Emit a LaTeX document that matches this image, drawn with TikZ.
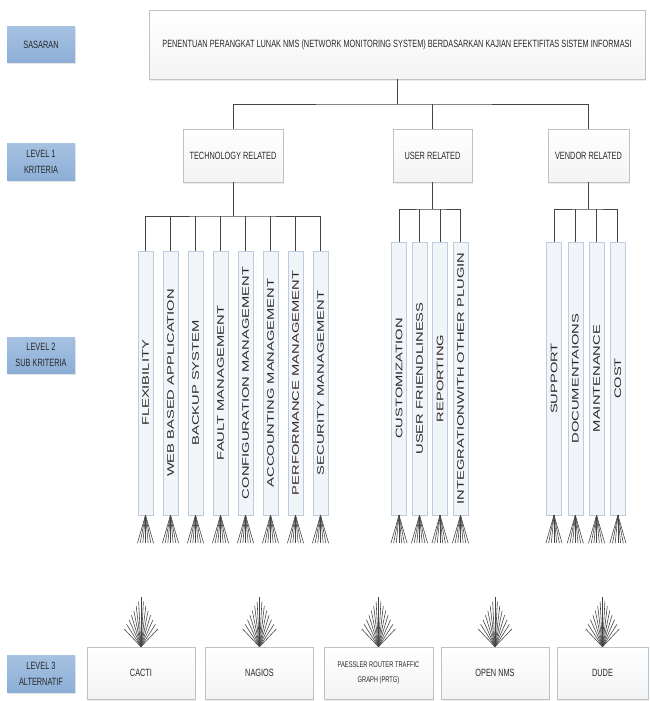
\documentclass[tikz,border=0pt]{standalone}
\usepackage{fontspec}
\setmainfont{Liberation Sans}
\newfontfamily\narrowfont[FakeStretch=0.7]{Liberation Sans}
\newfontfamily\widefont[FakeStretch=1.55]{Liberation Sans}
\usepackage{tikz}
\usetikzlibrary{calc,shadows}
\definecolor{lvltop}{RGB}{166,194,226}
\definecolor{lvlbot}{RGB}{140,174,214}
\definecolor{boxline}{RGB}{188,194,202}
\definecolor{colfill}{RGB}{241,245,250}
\definecolor{colline}{RGB}{190,205,222}
\definecolor{linkgray}{RGB}{68,68,68}
\definecolor{fangray}{RGB}{70,70,70}
\definecolor{txt}{RGB}{40,40,40}
\tikzset{
  levelbox/.style={rectangle,draw=none,top color=lvltop,bottom color=lvlbot,
    minimum width=68pt,minimum height=36pt,align=center,inner sep=2pt,
    text=txt,font=\narrowfont\fontsize{10.5}{16}\selectfont,
    drop shadow={shadow xshift=0.8pt,shadow yshift=-1.5pt,opacity=0.2}},
  goalbox/.style={rectangle,draw=boxline,top color=white,bottom color=gray!9,
    minimum width=496pt,minimum height=69pt,align=center,inner sep=2pt,
    text=txt,font=\narrowfont\fontsize{10.5}{12}\selectfont,
    drop shadow={shadow xshift=0.8pt,shadow yshift=-1.5pt,opacity=0.15}},
  critbox/.style={goalbox,minimum width=100pt,minimum height=53pt},
  altbox/.style={goalbox,minimum width=108pt,minimum height=52pt,
    font=\narrowfont\fontsize{10.5}{16}\selectfont},
  subbox/.style={rectangle,draw=colline,fill=colfill,minimum width=15pt,
    inner sep=1pt,text=txt,font=\widefont\fontsize{9.5}{11}\selectfont},
  link/.style={draw=linkgray,line width=0.9pt},
  fan/.style={draw=fangray,line width=0.6pt}
}

\begin{document}
\begin{tikzpicture}[x=1pt,y=-1pt]
\useasboundingbox (0,0) rectangle (649,701);
% ---------- level labels ----------
\node[levelbox] (lSas) at (41,45) {SASARAN};
\node[levelbox,minimum height=37pt] (lKri) at (41,161.5) {LEVEL 1\\KRITERIA};
\node[levelbox] (lSub) at (41,355) {LEVEL 2\\SUB KRITERIA};
\node[levelbox,minimum height=37pt] (lAlt) at (41,673.5) {LEVEL 3\\ALTERNATIF};
% ---------- goal and level 1 ----------
\node[goalbox] (goal) at (397,44.5) {PENENTUAN PERANGKAT LUNAK NMS (NETWORK MONITORING SYSTEM) BERDASARKAN KAJIAN EFEKTIFITAS SISTEM INFORMASI};
\node[critbox] (tech) at (233,155.5) {TECHNOLOGY RELATED};
\node[critbox,minimum width=79pt] (user) at (432.5,155.5) {USER RELATED};
\node[critbox,minimum width=81pt] (vend) at (588.5,155.5) {VENDOR RELATED};
\coordinate (j0) at (goal.south |- 0,104);
\draw[link] (goal.south) -- (j0);
\draw[link] (tech.north) |- (j0) -| (vend.north);
\draw[link] (user.north) -- (user.north |- j0);
% ---------- level 2 ----------
\foreach \lab [count=\i] in {FLEXIBILITY,WEB BASED APPLICATION,BACKUP SYSTEM,
  FAULT MANAGEMENT,CONFIGURATION MANAGEMENT,ACCOUNTING MANAGEMENT,
  PERFORMANCE MANAGEMENT,SECURITY MANAGEMENT}
  {\node[subbox,minimum height=264pt] (t\i) at ({120.5+25*\i},383) {\rotatebox{90}{\lab}};}
\foreach \lab [count=\i] in {CUSTOMIZATION,USER FRIENDLINESS,REPORTING,
  INTEGRATIONWITH OTHER PLUGIN}
  {\node[subbox,minimum height=273pt] (u\i) at ({378.5+20.5*\i},378.5) {\rotatebox{90}{\lab}};}
\foreach \lab [count=\i] in {SUPPORT,DOCUMENTAIONS,MAINTENANCE,COST}
  {\node[subbox,minimum height=273pt] (v\i) at ({532.7+21.3*\i},378.5) {\rotatebox{90}{\lab}};}
\coordinate (tj) at (tech.south |- 0,216);
\coordinate (uj) at (user.south |- 0,209);
\coordinate (vj) at (vend.south |- 0,209);
\draw[link] (tech.south) -- (tj);
\draw[link] (user.south) -- (uj);
\draw[link] (vend.south) -- (vj);
\draw[link] (t1.north) |- (tj) -| (t8.north);
\draw[link] (u1.north) |- (uj) -| (u4.north);
\draw[link] (v1.north) |- (vj) -| (v4.north);
\foreach \i in {2,...,7} {\draw[link] (t\i.north) -- (t\i.north |- tj);}
\foreach \i in {2,3} {\draw[link] (u\i.north) -- (u\i.north |- uj);
  \draw[link] (v\i.north) -- (v\i.north |- vj);}
\foreach \n in {t1,t2,t3,t4,t5,t6,t7,t8,u1,u2,u3,u4,v1,v2,v3,v4}
  {\foreach \k in {-3,...,3} {\draw[fan] (\n.south) -- ++({\k*2.7},28);}}
% ---------- level 3 ----------
\node[altbox] (a1) at (141,673) {CACTI};
\node[altbox] (a2) at (259.5,673) {NAGIOS};
\node[altbox,minimum width=109pt,font=\narrowfont\fontsize{8.2}{15}\selectfont] (a3) at (378.5,673) {PAESSLER ROUTER TRAFFIC\\GRAPH (PRTG)};
\node[altbox] (a4) at (495,673) {OPEN NMS};
\node[altbox,minimum width=91pt] (a5) at (602.5,673) {DUDE};
\foreach \i in {1,...,5}
  {\foreach \k in {-7,...,7} {\draw[fan] (a\i.north) -- ++({\k*2.4},{-50+4.6*abs(\k)});}}
\end{tikzpicture}
\end{document}
